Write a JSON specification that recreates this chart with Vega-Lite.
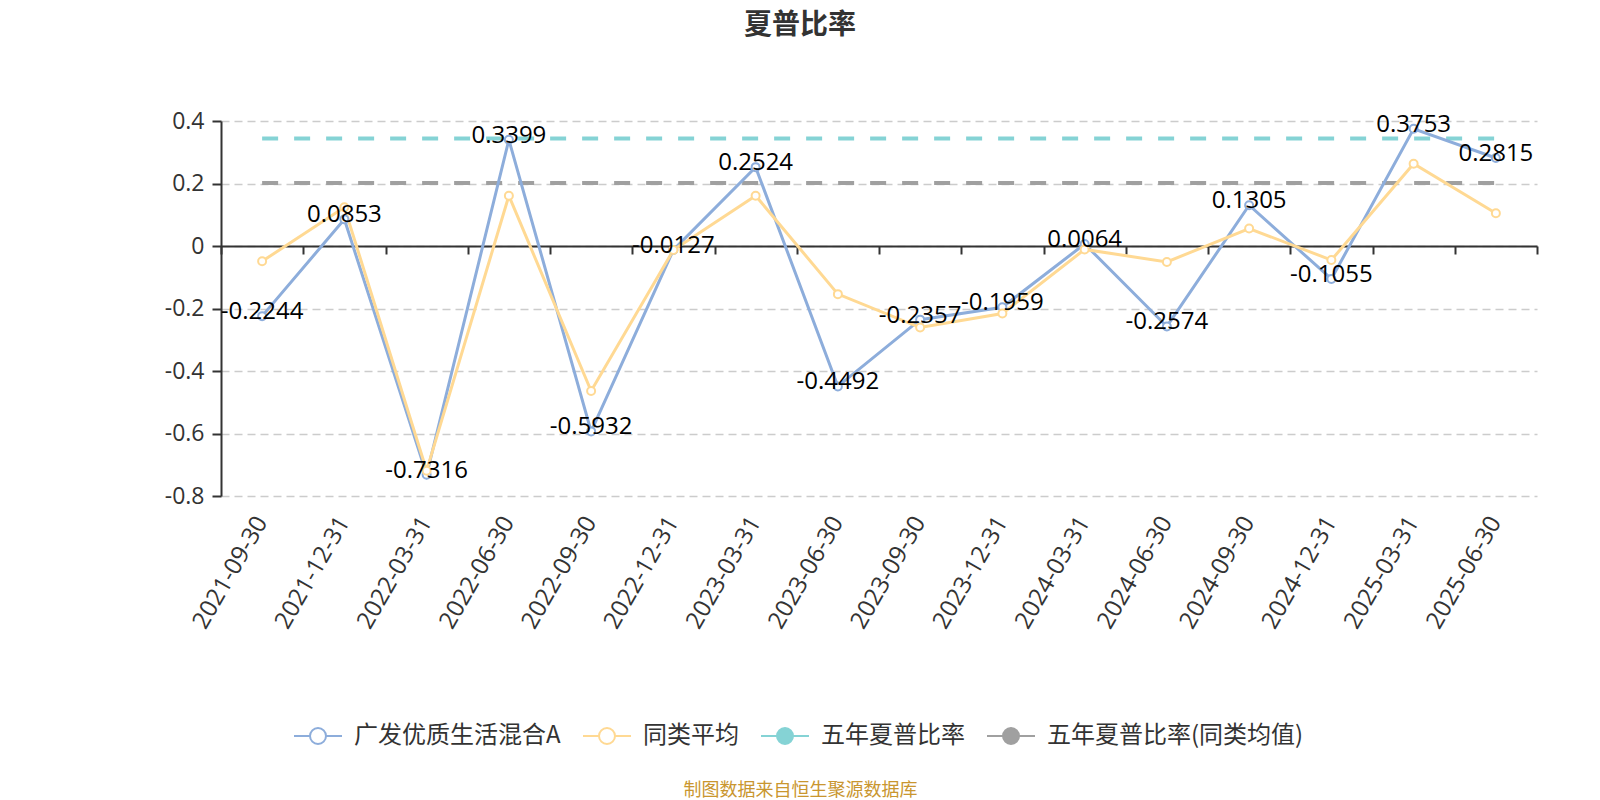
{
  "$schema": "https://vega.github.io/schema/vega-lite/v6.json",
  "width": 1316,
  "height": 375,
  "autosize": {"type": "none"},
  "padding": {"left": 221, "top": 121, "right": 63, "bottom": 304},
  "background": "white",
  "title": {
    "text": "夏普比率",
    "fontSize": 28,
    "fontWeight": "bold",
    "color": "#333333",
    "font": "Noto Sans CJK SC",
    "anchor": "middle",
    "dx": -79,
    "offset": 70
  },
  "config": {
    "view": {"stroke": null},
    "font": "'Open Sans', 'Noto Sans CJK SC', sans-serif"
  },
  "datasets": {
    "main": [
      {"date": "2021-09-30", "series": "广发优质生活混合A", "value": -0.2244},
      {"date": "2021-12-31", "series": "广发优质生活混合A", "value": 0.0853},
      {"date": "2022-03-31", "series": "广发优质生活混合A", "value": -0.7316},
      {"date": "2022-06-30", "series": "广发优质生活混合A", "value": 0.3399},
      {"date": "2022-09-30", "series": "广发优质生活混合A", "value": -0.5932},
      {"date": "2022-12-31", "series": "广发优质生活混合A", "value": -0.0127},
      {"date": "2023-03-31", "series": "广发优质生活混合A", "value": 0.2524},
      {"date": "2023-06-30", "series": "广发优质生活混合A", "value": -0.4492},
      {"date": "2023-09-30", "series": "广发优质生活混合A", "value": -0.2357},
      {"date": "2023-12-31", "series": "广发优质生活混合A", "value": -0.1959},
      {"date": "2024-03-31", "series": "广发优质生活混合A", "value": 0.0064},
      {"date": "2024-06-30", "series": "广发优质生活混合A", "value": -0.2574},
      {"date": "2024-09-30", "series": "广发优质生活混合A", "value": 0.1305},
      {"date": "2024-12-31", "series": "广发优质生活混合A", "value": -0.1055},
      {"date": "2025-03-31", "series": "广发优质生活混合A", "value": 0.3753},
      {"date": "2025-06-30", "series": "广发优质生活混合A", "value": 0.2815},
      {"date": "2021-09-30", "series": "同类平均", "value": -0.049},
      {"date": "2021-12-31", "series": "同类平均", "value": 0.124},
      {"date": "2022-03-31", "series": "同类平均", "value": -0.719},
      {"date": "2022-06-30", "series": "同类平均", "value": 0.161},
      {"date": "2022-09-30", "series": "同类平均", "value": -0.464},
      {"date": "2022-12-31", "series": "同类平均", "value": -0.013},
      {"date": "2023-03-31", "series": "同类平均", "value": 0.161},
      {"date": "2023-06-30", "series": "同类平均", "value": -0.154},
      {"date": "2023-09-30", "series": "同类平均", "value": -0.261},
      {"date": "2023-12-31", "series": "同类平均", "value": -0.216},
      {"date": "2024-03-31", "series": "同类平均", "value": -0.011},
      {"date": "2024-06-30", "series": "同类平均", "value": -0.051},
      {"date": "2024-09-30", "series": "同类平均", "value": 0.056},
      {"date": "2024-12-31", "series": "同类平均", "value": -0.045},
      {"date": "2025-03-31", "series": "同类平均", "value": 0.263},
      {"date": "2025-06-30", "series": "同类平均", "value": 0.105}
    ],
    "fy": [
      {"date": "2021-09-30", "series": "五年夏普比率", "value": 0.344},
      {"date": "2025-06-30", "series": "五年夏普比率", "value": 0.344},
      {"date": "2021-09-30", "series": "五年夏普比率(同类均值)", "value": 0.202},
      {"date": "2025-06-30", "series": "五年夏普比率(同类均值)", "value": 0.202}
    ]
  },
  "resolve": {"axis": {"x": "independent"}},
  "layer": [
    {
      "data": {"name": "fy"},
      "mark": {"type": "line", "strokeWidth": 4, "strokeDash": [16, 16]},
      "encoding": {
        "x": {
          "field": "date", "type": "ordinal", "bandPosition": 0.5,
          "scale": {"type": "band", "paddingInner": 0, "paddingOuter": 0,
            "domain": ["2021-09-30","2021-12-31","2022-03-31","2022-06-30","2022-09-30","2022-12-31","2023-03-31","2023-06-30","2023-09-30","2023-12-31","2024-03-31","2024-06-30","2024-09-30","2024-12-31","2025-03-31","2025-06-30"]},
          "axis": {
            "orient": "bottom",
            "domain": false,
            "ticks": false,
            "grid": false,
            "labelAngle": -60,
            "labelFontSize": 24,
            "labelColor": "#333333",
            "labelPadding": 22,
            "title": "制图数据来自恒生聚源数据库",
            "titleColor": "#C9962F",
            "titleFontSize": 18,
            "titleFontWeight": "normal",
            "titleFont": "Noto Sans CJK SC",
            "titleX": 579,
            "titleY": 294,
            "titleAlign": "center",
            "titleBaseline": "middle",
            "titleAngle": 0
          }
        },
        "y": {
          "field": "value", "type": "quantitative",
          "scale": {"domain": [-0.8, 0.4], "nice": false, "zero": false},
          "axis": {
            "values": [-0.8, -0.6, -0.4, -0.2, 0, 0.2, 0.4],
            "labelExpr": "datum.value == 0 ? '0' : (datum.value < 0 ? '-' + format(-datum.value, '.1f') : format(datum.value, '.1f'))",
            "title": null,
            "domain": true,
            "domainColor": "#333333",
            "domainWidth": 2,
            "ticks": true,
            "tickColor": "#333333",
            "tickWidth": 2,
            "tickSize": 9,
            "labelFontSize": 23,
            "labelColor": "#333333",
            "labelPadding": 8,
            "grid": true,
            "gridColor": "#cccccc",
            "gridWidth": 1.5,
            "gridDash": [8, 5]
          }
        },
        "color": {
          "field": "series", "type": "nominal",
          "scale": {
            "domain": ["广发优质生活混合A", "同类平均", "五年夏普比率", "五年夏普比率(同类均值)"],
            "range": ["#8DADDB", "#FFD993", "#85D3D5", "#A0A0A0"]
          },
          "legend": {
            "orient": "none",
            "legendX": 85,
            "legendY": 603,
            "direction": "horizontal",
            "title": null,
            "padding": 0,
            "symbolType": "M -3 0 L -1 0 M 1 0 L 3 0 M -1 0 A 1 1 0 1 1 1 0 A 1 1 0 1 1 -1 0 Z",
            "symbolSize": 256,
            "symbolStrokeWidth": 2,
            "labelFontSize": 24,
            "labelFont": "Noto Sans CJK SC",
            "labelColor": "#333333",
            "labelOffset": 24,
            "labelLimit": 0,
            "columnPadding": 18,
            "encode": {
              "symbols": {
                "update": {
                  "fill": {"signal": "(datum.value === '五年夏普比率' || datum.value === '五年夏普比率(同类均值)') ? scale('color', datum.value) : '#ffffff'"},
                  "fillOpacity": {"value": 1}
                }
              }
            }
          }
        }
      }
    },
    {
      "data": {"name": "main"},
      "mark": {
        "type": "line",
        "strokeWidth": 3,
        "point": {"filled": false, "fill": "white", "size": 64, "strokeWidth": 2}
      },
      "encoding": {
        "x": {
          "field": "date", "type": "ordinal", "bandPosition": 0.5,
          "axis": {
            "orient": "top",
            "offset": -125,
            "labels": false,
            "grid": false,
            "title": null,
            "domain": true,
            "domainColor": "#333333",
            "domainWidth": 2,
            "ticks": true,
            "tickBand": "extent",
            "tickColor": "#333333",
            "tickWidth": 2,
            "tickSize": -8
          }
        },
        "y": {"field": "value", "type": "quantitative"},
        "color": {"field": "series", "type": "nominal"}
      }
    },
    {
      "data": {"name": "main"},
      "transform": [{"filter": "datum.series === '广发优质生活混合A'"}],
      "mark": {"type": "text", "fontSize": 24, "color": "#000000", "baseline": "middle", "align": "center", "dy": -4},
      "encoding": {
        "x": {"field": "date", "type": "ordinal", "bandPosition": 0.5, "axis": null},
        "y": {"field": "value", "type": "quantitative"},
        "text": {"field": "value", "type": "nominal"}
      }
    }
  ]
}
